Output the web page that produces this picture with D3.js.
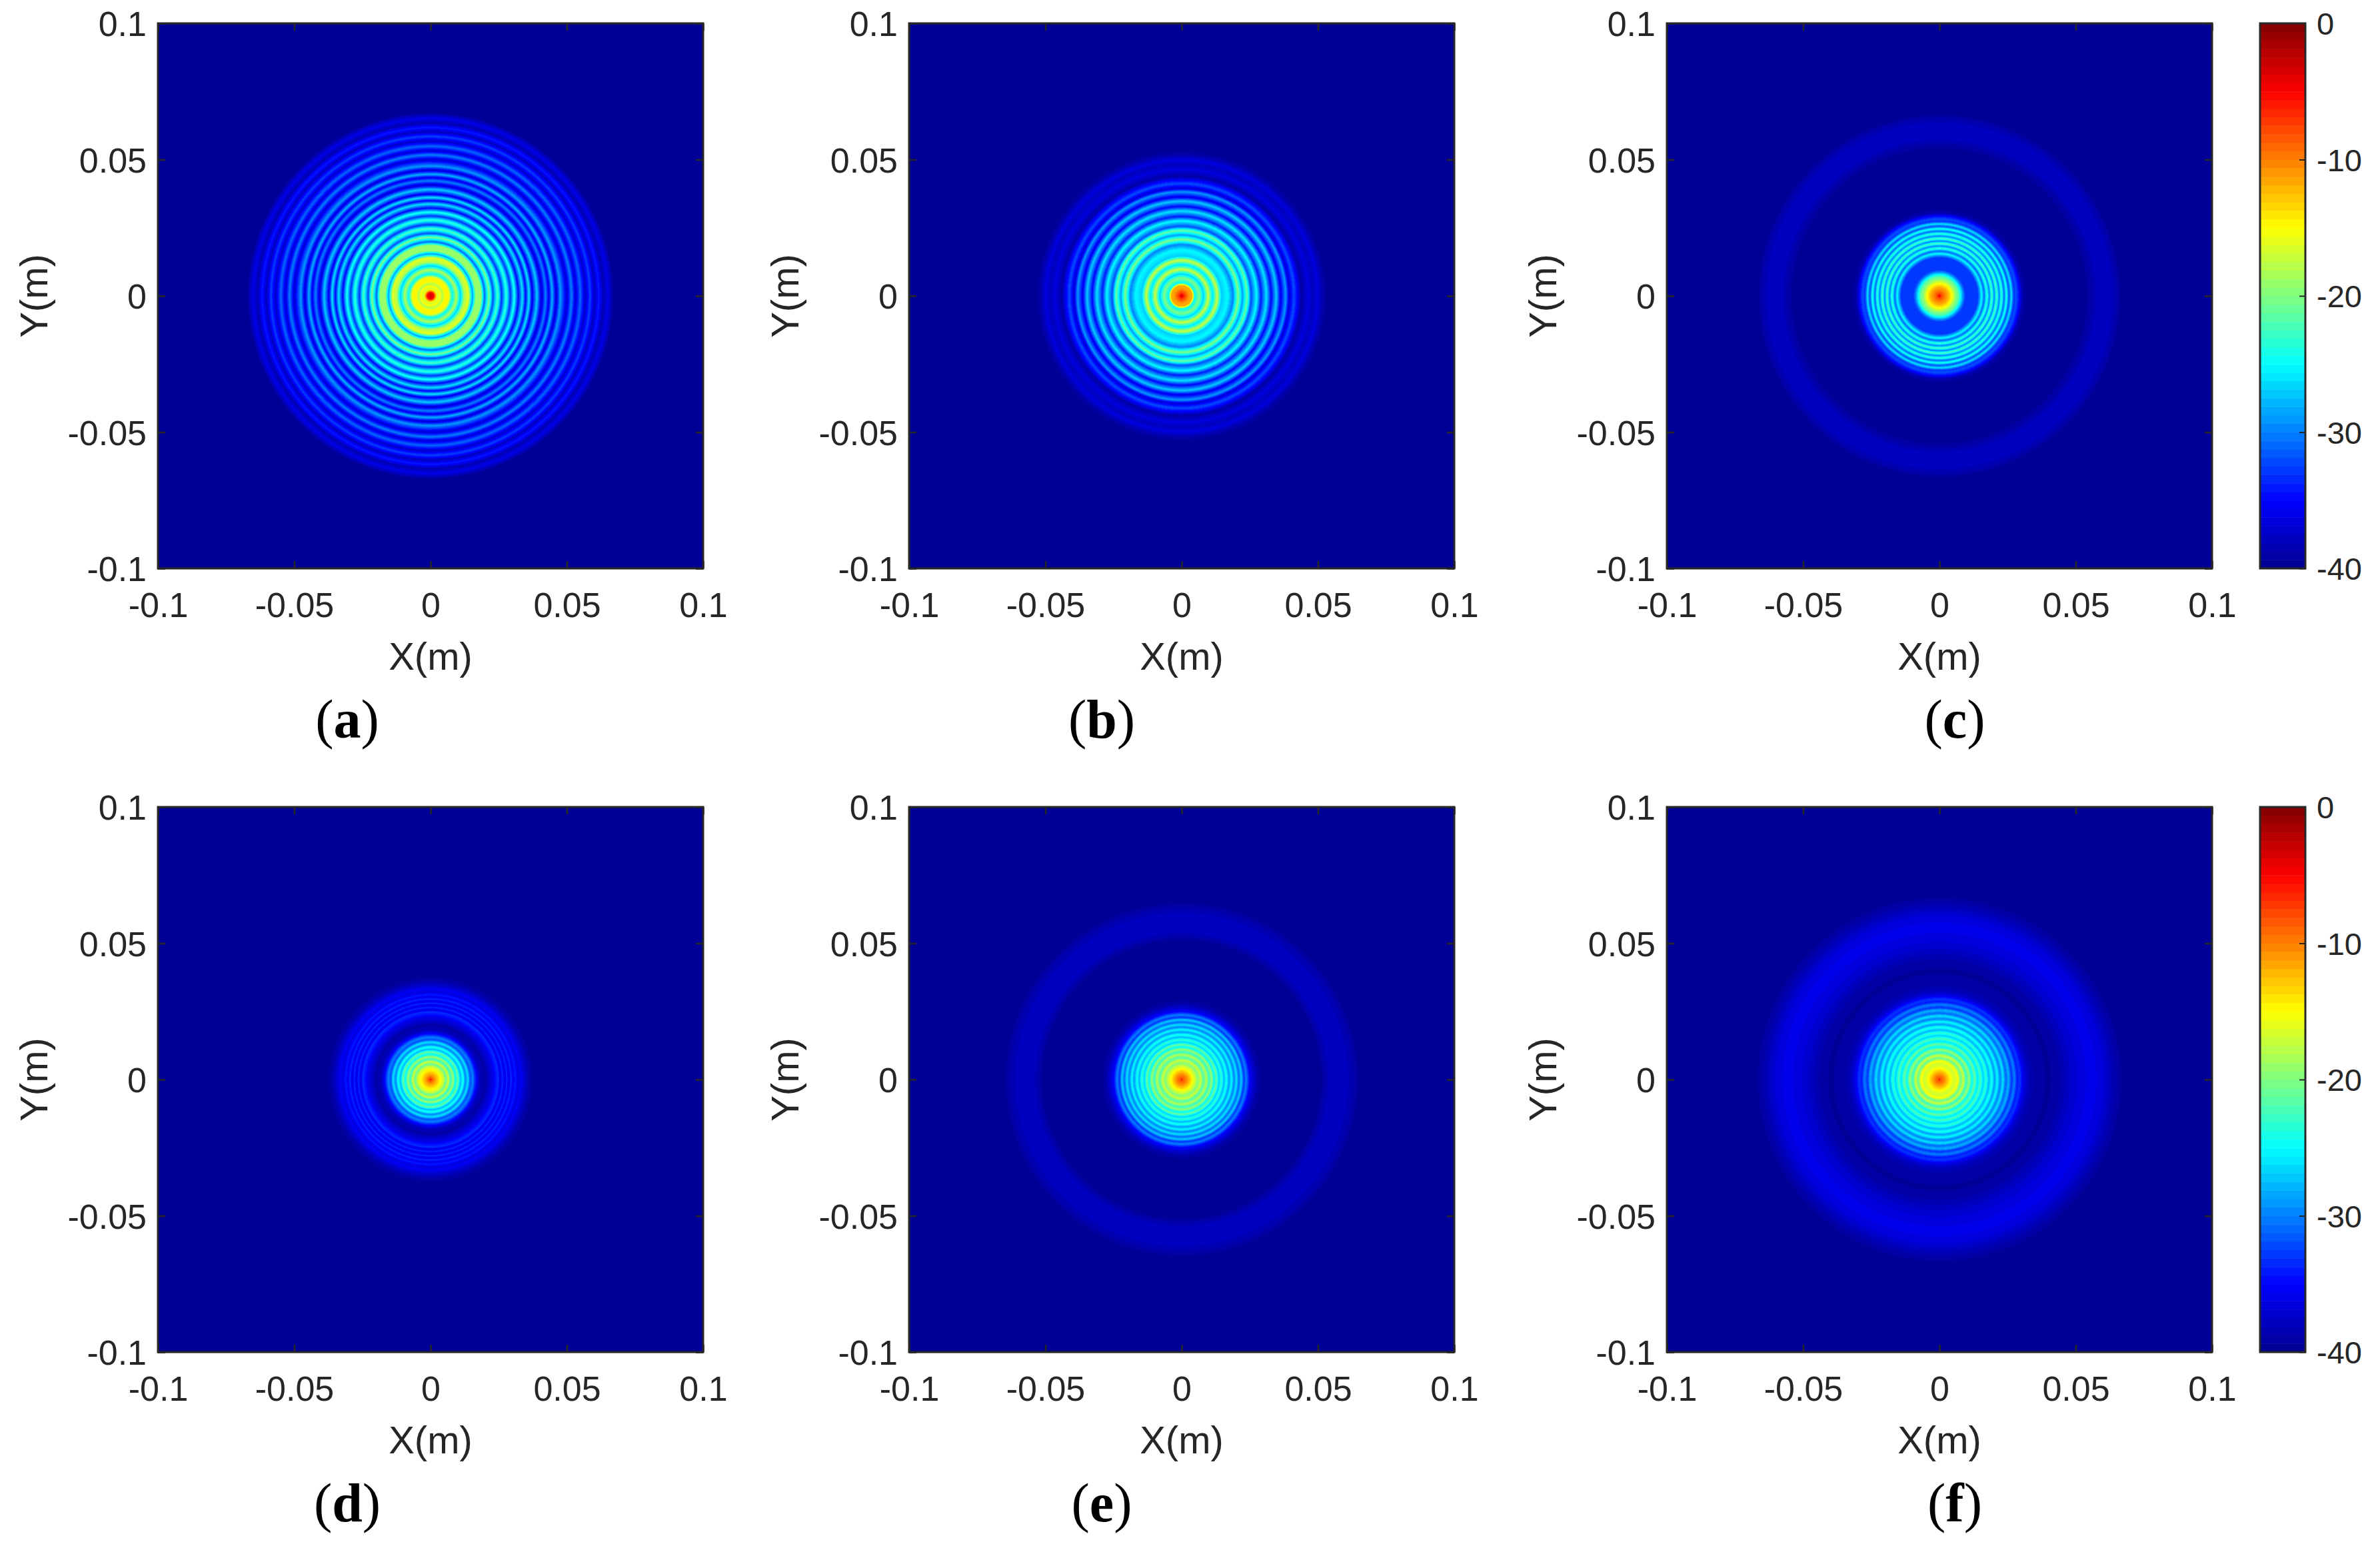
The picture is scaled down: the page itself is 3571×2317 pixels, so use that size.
<!DOCTYPE html>
<html>
<head>
<meta charset="utf-8">
<title>Radial field maps</title>
<script src="https://cdn.jsdelivr.net/npm/d3@7/dist/d3.min.js"></script>
<style>
  html, body { margin: 0; padding: 0; background: #fff; }
  svg { display: block; }
  text { font-family: "Liberation Sans", Arial, sans-serif; fill: #262626; }
  .panel-tag { font-family: "Liberation Serif", "Times New Roman", serif; fill: #000; }
</style>
</head>
<body>
<div id="chart"></div>
<script>
// axis values
const axisTicks = [-0.1, -0.05, 0, 0.05, 0.1];
const axisTickLabels = ["-0.1", "-0.05", "0", "0.05", "0.1"];
const barTicks = [0, -10, -20, -30, -40];
const barTickLabels = ["0", "-10", "-20", "-30", "-40"];
const panelTags = ["a", "b", "c", "d", "e", "f"];

// radial profile of each panel: radius in mm, level in dB
const radiusA = [0, 1.2, 1.8, 2.6, 3.4, 4.4, 5.4, 6.6, 8.0, 9.5, 11.0, 12.4, 13.9, 15.4, 16.6, 18.5, 19.8, 21.5, 22.9, 24.6, 26.1, 27.8, 29.3, 30.7, 32.2, 33.7, 34.9, 36.1, 37.3, 39.0, 40.7, 42.2, 43.4, 44.6, 46.1, 47.6, 50.0, 51.7, 53.2, 54.9, 56.8, 58.5, 60.2, 61.7, 63.4, 65.1, 67.1, 69.5];
const levelA = [-3, -5, -11, -17, -15, -18, -14.5, -14.5, -25, -18, -27, -18, -16, -29, -19, -19, -31, -20, -32, -22, -33, -23, -33, -24, -35, -26, -35, -26, -36, -27, -37, -30, -36, -28, -37, -29, -37, -30, -37, -31, -37.5, -32.5, -38, -34, -38.5, -36, -39.5, -40];

const radiusB = [0, 1.0, 2.6, 3.9, 4.8, 6.5, 8.0, 9.7, 11.4, 13.0, 14.6, 16.8, 18.8, 20.7, 22.3, 24.0, 25.5, 27.5, 29.1, 31.1, 32.8, 34.7, 36.3, 38.2, 39.5, 41.2, 44.0, 46.4, 48.2, 49.9, 51.5, 53.7];
const levelB = [-3, -7, -11, -12, -25, -20, -27, -17, -26, -17, -27, -25, -30, -20, -29, -21, -32, -25, -34, -26, -35, -27, -36, -29, -37, -32, -39, -36.5, -38, -36.5, -38.5, -40];

const radiusC = [0, 0.5, 1.9, 3.2, 4.5, 5.8, 7.1, 8.0, 8.8, 9.6, 12.9, 14.0, 14.6, 15.5, 16.4, 17.4, 18.3, 19.2, 20.1, 21.0, 21.9, 22.8, 23.7, 24.6, 25.5, 26.4, 27.3, 28.2, 29.3, 30.6, 33.0, 51.8, 55.0, 57.6, 61.5, 64.8, 67.3];
const levelC = [-3, -7, -10, -12, -15, -19, -22, -26, -30, -33, -33, -33, -30, -25, -31, -23, -30, -22, -30, -22, -30, -23, -31, -24, -32, -26, -33, -32, -35, -39, -40, -40, -39.2, -38, -37.5, -38.5, -40];

const radiusD = [0, 0.4, 1.6, 2.6, 3.6, 4.7, 5.6, 6.5, 7.4, 8.3, 9.2, 10.1, 11.0, 11.9, 12.8, 13.7, 14.6, 15.5, 16.8, 18.1, 20.1, 21.8, 23.1, 24.1, 24.9, 25.6, 26.4, 27.2, 28.0, 28.7, 29.5, 30.3, 31.1, 32.1, 33.2, 34.3, 36.3, 38.9];
const levelD = [-4, -8, -11, -13, -15, -17, -21, -17, -23, -19, -25, -21, -28, -24, -30, -26, -32, -30, -35, -38, -39, -37, -36, -34, -33.5, -36.5, -33.5, -36.5, -33.5, -36.5, -33.5, -36, -34, -36.5, -35.5, -37, -39, -40];

const radiusE = [0, 0.4, 1.6, 2.6, 3.9, 4.9, 6.0, 7.0, 8.0, 9.1, 10.1, 11.0, 11.9, 12.8, 13.7, 14.6, 15.5, 16.4, 17.4, 18.3, 19.2, 20.1, 21.0, 21.9, 22.8, 23.7, 24.9, 26.2, 27.8, 30.4, 50.5, 52.0, 54.0, 57.0, 60.0, 62.5, 66.0];
const levelE = [-4, -8, -10, -12, -15, -17, -20, -17, -22, -18, -23, -19, -25, -21, -27, -23, -28, -24, -29, -25, -30, -26, -31, -27, -33, -30, -35, -37, -39, -40, -40, -39, -38, -37.8, -37.8, -38.5, -40];

const radiusF = [0, 0.4, 1.6, 2.6, 3.6, 4.7, 5.7, 6.7, 7.8, 8.8, 9.8, 10.9, 11.9, 13.0, 14.0, 15.0, 16.1, 17.1, 18.1, 19.2, 20.2, 21.2, 22.3, 23.3, 24.3, 25.4, 26.4, 27.5, 28.5, 29.5, 30.8, 32.4, 35.0, 40.1, 44.0, 47.9, 51.8, 55.7, 59.6, 62.8, 66.0, 68.6];
const levelF = [-4, -8, -10, -12, -14, -16, -17, -15, -21, -17, -23, -19, -25, -21, -26, -22, -27, -23, -28, -24, -29, -25, -30, -26, -31, -28, -33, -30, -34, -33, -36, -38, -39, -39.5, -38.8, -37.5, -36.5, -36, -36.5, -38, -39.2, -40];

const radii = [radiusA, radiusB, radiusC, radiusD, radiusE, radiusF];
const levels = [levelA, levelB, levelC, levelD, levelE, levelF];

// jet colour map, 64 flat steps like the colorbar shows
const jet = d3.scaleLinear()
  .domain([-40, -35, -25, -15, -5, 0])
  .range(["#00008f", "#0000ff", "#00ffff", "#ffff00", "#ff0000", "#800000"]);
const jetSteps = d3.range(64).map(i => jet(-40 + (i + 0.5) * 40 / 64));
const color = d3.scaleQuantize().domain([-40, 0]).range(jetSteps);

// layout
const width = 3571, height = 2317;
const size = 818;
const columns = [237, 1364, 2501];
const rows = [35, 1211];
const barX = 3391, barWidth = 68;

const x = d3.scaleLinear().domain([-0.1, 0.1]).range([0, size]);
const y = d3.scaleLinear().domain([-0.1, 0.1]).range([size, 0]);
const barY = d3.scaleLinear().domain([-40, 0]).range([size, 0]);

const svg = d3.select("#chart").append("svg")
  .attr("width", width)
  .attr("height", height);

function labelOf(v) {
  return axisTickLabels[axisTicks.indexOf(v)];
}

// paint one map into an offscreen canvas, returns a data url
function paintMap(radius, level) {
  const profile = d3.scaleLinear().domain(radius).range(level).clamp(true);
  const canvas = document.createElement("canvas");
  canvas.width = size;
  canvas.height = size;
  const ctx = canvas.getContext("2d");
  for (let py = 0; py < size; py++) {
    for (let px = 0; px < size; px++) {
      const r = Math.hypot(x.invert(px + 0.5), y.invert(py + 0.5)) * 1000;
      ctx.fillStyle = color(profile(r));
      ctx.fillRect(px, py, 1, 1);
    }
  }
  return canvas.toDataURL();
}

function styleAxis(g) {
  g.selectAll(".domain").remove();
  g.selectAll(".tick line").attr("stroke", "#262626").attr("stroke-width", 2.6);
  g.selectAll("text").style("font-size", "52px").attr("font-family", null).attr("fill", "#262626");
}

panelTags.forEach((tag, i) => {
  const left = columns[i % 3];
  const top = rows[Math.floor(i / 3)];
  const g = svg.append("g").attr("transform", `translate(${left},${top})`);

  g.append("image")
    .attr("width", size)
    .attr("height", size)
    .attr("href", paintMap(radii[i], levels[i]));

  // MATLAB style box: ticks point inward on all four sides
  g.append("g").attr("transform", `translate(0,${size})`)
    .call(d3.axisBottom(x).tickValues(axisTicks).tickSize(-11).tickFormat(labelOf))
    .call(styleAxis)
    .selectAll("text").attr("y", 73).attr("dy", 0);
  g.append("g")
    .call(d3.axisLeft(y).tickValues(axisTicks).tickSize(-11).tickFormat(labelOf))
    .call(styleAxis)
    .selectAll("text").attr("x", -17).attr("dy", "0.36em");
  g.append("g")
    .call(d3.axisTop(x).tickValues(axisTicks).tickSize(-11).tickFormat(""))
    .call(styleAxis);
  g.append("g").attr("transform", `translate(${size},0)`)
    .call(d3.axisRight(y).tickValues(axisTicks).tickSize(-11).tickFormat(""))
    .call(styleAxis);

  g.append("rect")
    .attr("width", size)
    .attr("height", size)
    .attr("fill", "none")
    .attr("stroke", "#262626")
    .attr("stroke-width", 3);

  g.append("text")
    .attr("x", x(0))
    .attr("y", size + 152)
    .attr("text-anchor", "middle")
    .style("font-size", "58px")
    .text("X(m)");

  g.append("text")
    .attr("transform", `translate(-166,${y(0)}) rotate(-90)`)
    .attr("text-anchor", "middle")
    .style("font-size", "58px")
    .text("Y(m)");

  const tagText = g.append("text")
    .attr("class", "panel-tag")
    .attr("x", [284, 289, 432][i % 3])
    .attr("y", size + 254)
    .attr("text-anchor", "middle")
    .style("font-size", "82px");
  tagText.append("tspan").text("(");
  tagText.append("tspan").attr("font-weight", "bold").text(tag);
  tagText.append("tspan").text(")");
});

// colorbars next to the right hand column
rows.forEach(top => {
  const bar = svg.append("g").attr("transform", `translate(${barX},${top})`);

  bar.selectAll("rect.step")
    .data(jetSteps)
    .enter()
    .append("rect")
    .attr("class", "step")
    .attr("x", 0)
    .attr("width", barWidth)
    .attr("y", (d, i) => barY(-40 + (i + 1) * 40 / 64))
    .attr("height", size / 64 + 0.5)
    .attr("fill", d => d);

  bar.append("g").attr("transform", `translate(${barWidth},0)`)
    .call(d3.axisRight(barY).tickValues(barTicks).tickSize(-9)
      .tickFormat(v => barTickLabels[barTicks.indexOf(v)]))
    .call(g => {
      g.selectAll(".domain").remove();
      g.selectAll(".tick line").attr("stroke", "#262626").attr("stroke-width", 2);
      g.selectAll("text")
        .attr("x", 17)
        .attr("dy", "0.36em")
        .attr("font-family", null)
        .attr("fill", "#262626")
        .style("font-size", "47px");
    });

  bar.append("rect")
    .attr("width", barWidth)
    .attr("height", size)
    .attr("fill", "none")
    .attr("stroke", "#262626")
    .attr("stroke-width", 3);
});
</script>
</body>
</html>
